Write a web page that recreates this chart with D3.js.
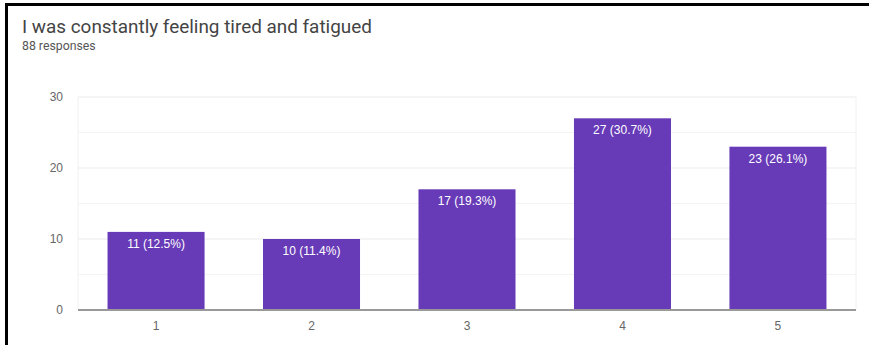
<!DOCTYPE html>
<html>
<head>
<meta charset="utf-8">
<script src="https://cdn.jsdelivr.net/npm/d3@7"></script>
<style>
  html, body { margin: 0; padding: 0; background: #fff; }
  svg { display: block; }
</style>
</head>
<body>
<svg id="chart" width="869" height="345"></svg>
<script>
// Survey answers on a 1–5 scale
const categories = ["1", "2", "3", "4", "5"];
const counts = [11, 10, 17, 27, 23];
const percents = ["12.5", "11.4", "19.3", "30.7", "26.1"];
const yTicks = [0, 10, 20, 30];
const title = "I was constantly feeling tired and fatigued";
const subtitle = "88 responses";

const svg = d3.select("#chart");
const headFont = "Roboto, Arial, sans-serif";
const chartFont = "'Liberation Sans', Arial, sans-serif";

// card frame (top and left edges)
svg.append("rect").attr("x", 5).attr("y", 3).attr("width", 864).attr("height", 3).attr("fill", "#000");
svg.append("rect").attr("x", 5).attr("y", 3).attr("width", 3).attr("height", 342).attr("fill", "#000");

svg.append("text").attr("x", 22).attr("y", 33)
  .attr("font-family", headFont).attr("font-size", 18.9).attr("fill", "#444")
  .text(title);
svg.append("text").attr("x", 22).attr("y", 50)
  .attr("font-family", headFont).attr("font-size", 12.3).attr("fill", "#555")
  .text(subtitle);

const plot = { left: 78, right: 856, top: 97, bottom: 310 };

const x = d3.scaleBand().domain(categories)
  .range([plot.left, plot.right]).paddingInner(0.376).paddingOuter(0.19);
const y = d3.scaleLinear().domain([0, 30]).range([plot.bottom, plot.top]);

// minor gridlines
const g = svg.append("g");
g.selectAll("line.minor").data([5, 15, 25]).join("line")
  .attr("x1", plot.left).attr("x2", plot.right)
  .attr("y1", d => y(d)).attr("y2", d => y(d))
  .attr("stroke", "#f4f4f4").attr("stroke-width", 1);
// major gridlines
g.selectAll("line.major").data(yTicks.slice(1)).join("line")
  .attr("x1", plot.left).attr("x2", plot.right)
  .attr("y1", d => y(d)).attr("y2", d => y(d))
  .attr("stroke", "#ebebeb").attr("stroke-width", 1);
// side edges of plot area
[plot.left, plot.right].forEach(px => {
  g.append("line").attr("x1", px).attr("x2", px)
    .attr("y1", plot.top).attr("y2", plot.bottom)
    .attr("stroke", "#f0f0f0").attr("stroke-width", 1);
});

// y axis labels
const yAxis = svg.append("g").attr("transform", `translate(${plot.left - 15},0)`)
  .call(d3.axisLeft(y).tickValues(yTicks).tickSize(0).tickPadding(0));
yAxis.select(".domain").remove();
yAxis.selectAll("text").attr("font-family", chartFont).attr("font-size", 12).attr("fill", "#666");

// bars
const data = categories.map((c, i) => ({ c, v: counts[i], p: percents[i] }));
svg.append("g").selectAll("rect").data(data).join("rect")
  .attr("x", d => x(d.c)).attr("width", x.bandwidth())
  .attr("y", d => y(d.v)).attr("height", d => y(0) - y(d.v))
  .attr("fill", "#673ab7");

// value labels inside bars
svg.append("g").selectAll("text").data(data).join("text")
  .attr("x", d => x(d.c) + x.bandwidth() / 2)
  .attr("y", d => y(d.v) + 16)
  .attr("text-anchor", "middle")
  .attr("font-family", chartFont).attr("font-size", 12).attr("fill", "#fff")
  .text(d => `${d.v} (${d.p}%)`);

// baseline
svg.append("line").attr("x1", plot.left).attr("x2", plot.right)
  .attr("y1", y(0)).attr("y2", y(0))
  .attr("stroke", "#999").attr("stroke-width", 2);

// x axis labels
const xAxis = svg.append("g").attr("transform", `translate(0,${plot.bottom + 11})`)
  .call(d3.axisBottom(x).tickSize(0).tickPadding(0));
xAxis.select(".domain").remove();
xAxis.selectAll("text").attr("font-family", chartFont).attr("font-size", 12).attr("fill", "#666");
</script>
</body>
</html>
